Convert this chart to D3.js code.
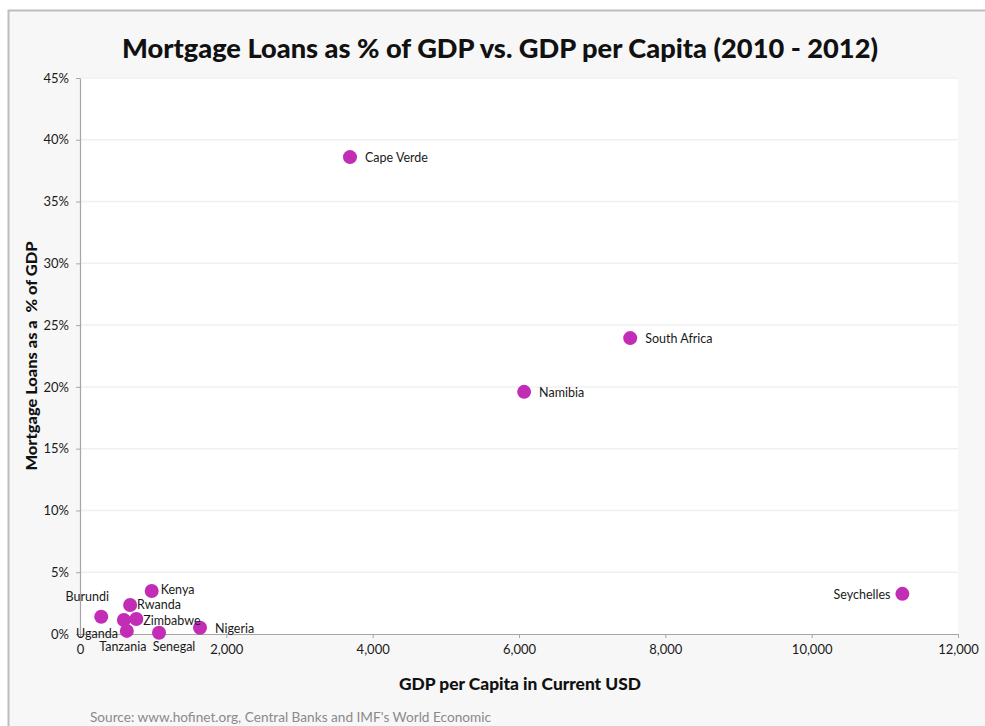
<!DOCTYPE html>
<html>
<head>
<meta charset="utf-8">
<script src="https://cdn.jsdelivr.net/npm/d3@7"></script>
<style>
  html, body { margin: 0; padding: 0; background: #ffffff; }
  svg { display: block; }
  text { font-family: Lato, "Open Sans", sans-serif; }
</style>
</head>
<body>
<svg id="chart" width="985" height="726"></svg>
<script>
// Country data: GDP per capita (current USD) and mortgage loans as share of GDP (%)
const countries = ["Cape Verde", "South Africa", "Namibia", "Seychelles", "Kenya", "Rwanda",
                   "Burundi", "Zimbabwe", "Uganda", "Tanzania", "Senegal", "Nigeria"];
const gdpPerCapita = [3690, 7520, 6070, 11240, 980, 685, 290, 770, 600, 640, 1080, 1640];
const mortgagePct = [38.6, 23.95, 19.6, 3.25, 3.48, 2.35, 1.4, 1.22, 1.13, 0.25, 0.1, 0.51];

const xTicks = [0, 2000, 4000, 6000, 8000, 10000, 12000];
const yTicks = [0, 5, 10, 15, 20, 25, 30, 35, 40, 45];

// Label placement around each dot: [dx, dy, anchor]
const labelPlacement = {
  "Cape Verde": [15, 5, "start"],
  "South Africa": [15, 5, "start"],
  "Namibia": [15, 5, "start"],
  "Seychelles": [-12, 5, "end"],
  "Kenya": [9, 3, "start"],
  "Rwanda": [7, 4, "start"],
  "Burundi": [-14, -16, "middle"],
  "Zimbabwe": [7, 6, "start"],
  "Uganda": [-6, 18, "end"],
  "Tanzania": [-4, 20, "middle"],
  "Senegal": [15, 18, "middle"],
  "Nigeria": [15, 5, "start"]
};

const svg = d3.select("#chart");
const W = 985, H = 726;
const plot = { left: 80, right: 958, top: 78, bottom: 634 };

// Outer panel
svg.append("rect").attr("x", 8.5).attr("y", 10.5).attr("width", W).attr("height", H)
  .attr("fill", "#f7f7f7").attr("stroke", "#bdbdbd").attr("stroke-width", 2);

// Plot area
svg.append("rect").attr("x", plot.left).attr("y", plot.top)
  .attr("width", plot.right - plot.left).attr("height", plot.bottom - plot.top)
  .attr("fill", "#ffffff");

const x = d3.scaleLinear().domain([0, 12000]).range([plot.left, plot.right]);
const y = d3.scaleLinear().domain([0, 45]).range([plot.bottom, plot.top]);

// Horizontal gridlines
svg.append("g").selectAll("line").data(yTicks.filter(d => d > 0)).join("line")
  .attr("x1", plot.left).attr("x2", plot.right)
  .attr("y1", d => y(d)).attr("y2", d => y(d))
  .attr("stroke", "#f0f0f0").attr("stroke-width", 1.5);

// Y axis
const yAxis = svg.append("g").attr("transform", `translate(${plot.left},0)`)
  .call(d3.axisLeft(y).tickValues(yTicks).tickFormat(d => d + "%").tickSize(4).tickSizeOuter(0).tickPadding(7));
yAxis.select(".domain").attr("stroke", "#a6a6a6").attr("stroke-width", 1.2);
yAxis.selectAll(".tick line").attr("stroke", "#a6a6a6");
yAxis.selectAll(".tick text").attr("fill", "#1a1a1a").style("font-size", "13px")
  .style("font-family", "Lato, sans-serif");

// X axis
const xAxis = svg.append("g").attr("transform", `translate(0,${plot.bottom})`)
  .call(d3.axisBottom(x).tickValues(xTicks).tickFormat(d3.format(",")).tickSize(4).tickSizeOuter(0).tickPadding(7));
xAxis.select(".domain").attr("stroke", "#a6a6a6").attr("stroke-width", 1.2);
xAxis.selectAll(".tick line").attr("stroke", "#a6a6a6");
xAxis.selectAll(".tick text").attr("fill", "#1a1a1a").style("font-size", "13px")
  .style("font-family", "Lato, sans-serif");

// Points
const points = countries.map((c, i) => ({ name: c, gdp: gdpPerCapita[i], pct: mortgagePct[i] }));
svg.append("g").selectAll("circle").data(points).join("circle")
  .attr("cx", d => x(d.gdp)).attr("cy", d => y(d.pct)).attr("r", 7)
  .attr("fill", "#c22db5");

// Point labels
svg.append("g").selectAll("text").data(points).join("text")
  .attr("x", d => x(d.gdp) + labelPlacement[d.name][0])
  .attr("y", d => y(d.pct) + labelPlacement[d.name][1])
  .attr("text-anchor", d => labelPlacement[d.name][2])
  .attr("fill", "#1a1a1a").style("font-size", "12.5px")
  .text(d => d.name);

// Title
svg.append("text").attr("x", 500).attr("y", 58).attr("text-anchor", "middle")
  .attr("fill", "#111").style("font-size", "26px").style("font-weight", "900")
  .attr("textLength", 756).attr("lengthAdjust", "spacingAndGlyphs")
  .text("Mortgage Loans as % of GDP vs. GDP per Capita (2010 - 2012)");

// Axis titles
svg.append("text").attr("transform", "translate(37,356) rotate(-90)").attr("text-anchor", "middle")
  .attr("fill", "#111").style("font-size", "15px").style("font-weight", "900")
  .attr("xml:space", "preserve")
  .attr("textLength", 229).attr("lengthAdjust", "spacingAndGlyphs")
  .text("Mortgage Loans as a  % of GDP");

svg.append("text").attr("x", 520).attr("y", 690).attr("text-anchor", "middle")
  .attr("fill", "#111").style("font-size", "16px").style("font-weight", "900")
  .attr("textLength", 242).attr("lengthAdjust", "spacingAndGlyphs")
  .text("GDP per Capita in Current USD");

// Source note
svg.append("text").attr("x", 90).attr("y", 722)
  .attr("fill", "#8a8a8a").style("font-size", "13.5px")
  .attr("textLength", 401).attr("lengthAdjust", "spacingAndGlyphs")
  .text("Source: www.hofinet.org, Central Banks and IMF's World Economic");
</script>
</body>
</html>
